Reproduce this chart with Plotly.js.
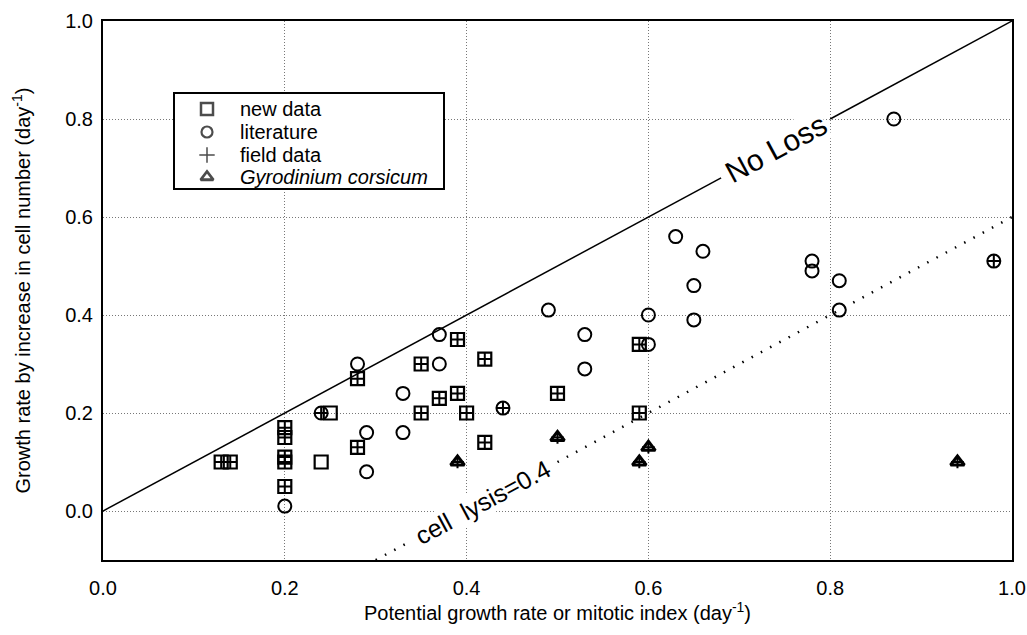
<!DOCTYPE html>
<html>
<head>
<meta charset="utf-8">
<script src="https://cdn.plot.ly/plotly-3.0.1.min.js"></script>
<style>html,body{margin:0;padding:0;background:#fff;}#chart{width:1027px;height:635px;}</style>
</head>
<body>
<div id="chart"></div>
<script>
// ---- data ----
// new data (squares)
const newDataX = [0.13, 0.14, 0.20, 0.20, 0.20, 0.20, 0.20, 0.25, 0.24, 0.28, 0.28, 0.35, 0.35, 0.37, 0.39, 0.39, 0.40, 0.42, 0.42, 0.50, 0.59, 0.59];
const newDataY = [0.10, 0.10, 0.17, 0.15, 0.11, 0.10, 0.05, 0.20, 0.10, 0.27, 0.13, 0.30, 0.20, 0.23, 0.35, 0.24, 0.20, 0.31, 0.14, 0.24, 0.34, 0.20];
// literature (circles)
const litX = [0.20, 0.24, 0.28, 0.29, 0.29, 0.33, 0.33, 0.37, 0.37, 0.44, 0.49, 0.53, 0.53, 0.60, 0.60, 0.63, 0.66, 0.65, 0.65, 0.78, 0.78, 0.81, 0.81, 0.87, 0.98];
const litY = [0.01, 0.20, 0.30, 0.16, 0.08, 0.24, 0.16, 0.36, 0.30, 0.21, 0.41, 0.36, 0.29, 0.40, 0.34, 0.56, 0.53, 0.46, 0.39, 0.51, 0.49, 0.47, 0.41, 0.80, 0.51];
// Gyrodinium corsicum (triangles)
const gyroX = [0.39, 0.50, 0.59, 0.60, 0.94];
const gyroY = [0.10, 0.15, 0.10, 0.13, 0.10];
// field data (plus signs)
const fieldX = [0.13, 0.14, 0.20, 0.20, 0.20, 0.20, 0.20, 0.28, 0.28, 0.35, 0.35, 0.37, 0.39, 0.39, 0.40, 0.42, 0.42, 0.50, 0.59, 0.59, 0.24, 0.44, 0.98, 0.39, 0.50, 0.59, 0.60, 0.94];
const fieldY = [0.10, 0.10, 0.17, 0.15, 0.11, 0.10, 0.05, 0.27, 0.13, 0.30, 0.20, 0.23, 0.35, 0.24, 0.20, 0.31, 0.14, 0.24, 0.34, 0.20, 0.20, 0.21, 0.51, 0.10, 0.15, 0.10, 0.13, 0.10];
// reference lines: growth = potential - loss
const noLossRate = 0.0;
const noLossSegX = [0.0, 0.68, null, 0.80, 1.0];
const lysisRate = 0.4;
const lysisSegX = [0.30, 0.335, null, 0.50, 1.0];
// ticks
const xTicks = [0.0, 0.2, 0.4, 0.6, 0.8, 1.0];
const yTicks = [0.0, 0.2, 0.4, 0.6, 0.8, 1.0];
// legend labels
const legendNames = ['new data', 'literature', 'field data', '<i>Gyrodinium corsicum</i>'];

const FONT = 'Liberation Sans, Arial, Helvetica, sans-serif';
const M = {l: 103, r: 15, t: 21, b: 75};
const W = 1027, H = 635;
const xRange = [0, 1.0], yRange = [-0.1, 1.0];
const pxPerX = (W - M.l - M.r) / (xRange[1] - xRange[0]);
const pxPerY = (H - M.t - M.b) / (yRange[1] - yRange[0]);
const lineAngle = -Math.atan(pxPerY / pxPerX) * 180 / Math.PI;
// pixel -> data helpers (for the hand-drawn legend box)
const px2x = px => xRange[0] + (px - M.l) / pxPerX;
const px2y = py => yRange[1] - (py - M.t) / pxPerY;

const lineY = (xs, r) => xs.map(v => v === null ? null : v - r);

// legend geometry in pixels
const LEG = {left: 174, top: 93, right: 444, bottom: 189, symX: 207, textX: 238, rows: [109, 132, 155, 177]};

const traces = [
  {x: noLossSegX, y: lineY(noLossSegX, noLossRate), mode: 'lines', line: {color: '#000', width: 1.5}, showlegend: false, hoverinfo: 'skip'},
  {x: lysisSegX, y: lineY(lysisSegX, lysisRate), mode: 'lines', line: {color: '#000', width: 2.5, dash: '1.5px,9px'}, showlegend: false, hoverinfo: 'skip'},
  {x: newDataX, y: newDataY, name: legendNames[0], mode: 'markers', showlegend: false,
   marker: {symbol: 'square-open', size: 13, color: '#000', line: {width: 2.2, color: '#000'}}},
  {x: litX, y: litY, name: legendNames[1], mode: 'markers', showlegend: false,
   marker: {symbol: 'circle-open', size: 13, color: '#000', line: {width: 2, color: '#000'}}},
  {x: gyroX, y: gyroY, name: legendNames[3], mode: 'markers', showlegend: false,
   marker: {symbol: 'triangle-up-open', size: 12, color: '#000', line: {width: 3, color: '#000'}}},
  {x: fieldX, y: fieldY, name: legendNames[2], mode: 'markers', showlegend: false,
   marker: {symbol: 'cross-thin', size: 9, color: '#000', line: {width: 2, color: '#000'}}},
  // legend symbols
  {x: LEG.rows.map(() => px2x(LEG.symX)), y: LEG.rows.map(px2y), mode: 'markers', showlegend: false, hoverinfo: 'skip',
   marker: {symbol: ['square-open', 'circle-open', 'cross-thin', 'triangle-up-open'], size: [12, 11, 11, 11], color: '#000',
            line: {width: [2.5, 2.2, 1.5, 2.8], color: '#000'}}}
];

const axisCommon = {
  showline: true, linecolor: '#000', linewidth: 2, mirror: true,
  showgrid: true, gridcolor: '#777', gridwidth: 1, griddash: '1px,2px',
  zeroline: false, ticks: '', tickformat: '.1f',
  tickfont: {family: FONT, size: 20, color: '#000'}
};

const annotations = [
  {x: 0.74, y: 0.74 - noLossRate, xref: 'x', yref: 'y', text: 'No Loss', showarrow: false, bgcolor: '#fff', borderpad: 0,
   textangle: lineAngle, font: {family: FONT, size: 30, color: '#000'}},
  {x: 0.418, y: 0.418 - lysisRate, xref: 'x', yref: 'y', text: 'cell  lysis=0.4', showarrow: false, bgcolor: '#fff', borderpad: 0,
   textangle: lineAngle, font: {family: FONT, size: 25, color: '#000'}}
];
legendNames.forEach((name, i) => {
  annotations.push({x: px2x(LEG.textX), y: px2y(LEG.rows[i]), xref: 'x', yref: 'y', xanchor: 'left', yanchor: 'middle',
    text: name, showarrow: false, font: {family: FONT, size: 20, color: '#000'}});
});

const layout = {
  width: W, height: H,
  margin: M,
  paper_bgcolor: '#fff', plot_bgcolor: '#fff',
  font: {family: FONT, color: '#000'},
  showlegend: false,
  xaxis: Object.assign({}, axisCommon, {
    range: xRange, tickvals: xTicks, ticklabelstandoff: 9,
    title: {text: 'Potential growth rate or mitotic index (day<sup>-1</sup>)', font: {family: FONT, size: 20}, standoff: 8}
  }),
  yaxis: Object.assign({}, axisCommon, {
    range: yRange, tickvals: yTicks, ticklabelstandoff: 4,
    title: {text: 'Growth rate by increase in cell number (day<sup>-1</sup>)', font: {family: FONT, size: 20}, standoff: 29}
  }),
  shapes: [
    {type: 'rect', xref: 'x', yref: 'y', layer: 'between',
     x0: px2x(LEG.left), x1: px2x(LEG.right), y0: px2y(LEG.bottom), y1: px2y(LEG.top),
     fillcolor: '#fff', line: {color: '#000', width: 2}}
  ],
  annotations: annotations
};

Plotly.newPlot('chart', traces, layout, {displayModeBar: false, staticPlot: true});
</script>
</body>
</html>
